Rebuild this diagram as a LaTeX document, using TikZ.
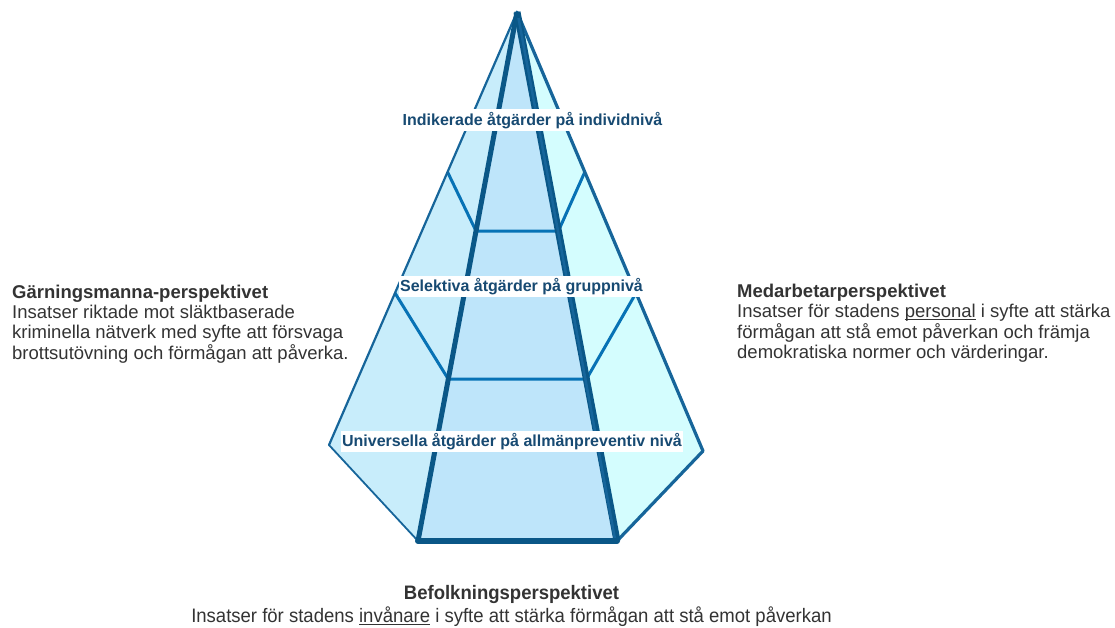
\documentclass[tikz,border=0pt]{standalone}
\usepackage{fontspec}
\usepackage{graphicx}
\setmainfont{Liberation Sans}
\usetikzlibrary{calc}
\definecolor{leftface}{HTML}{C8EDFB}
\definecolor{frontface}{HTML}{BEE5FA}
\definecolor{rightface}{HTML}{D4FDFE}
\definecolor{edgedark}{HTML}{0A5787}
\definecolor{edgeout}{HTML}{16659A}
\definecolor{midline}{HTML}{0772B5}
\definecolor{lbltext}{HTML}{174A72}
\definecolor{bodytext}{HTML}{333333}
\newcommand\myul[1]{\setbox0\hbox{#1}\rlap{\rule[-2.4pt]{\wd0}{1.1pt}}\box0\relax}
\begin{document}
\begin{tikzpicture}[x=1pt,y=-1pt,
  lbl/.style={fill=white,inner xsep=1.5pt,inner ysep=2.5pt,text=lbltext,
    font=\fontsize{16}{18}\selectfont\bfseries},
  body/.style={inner sep=0pt,text=bodytext,font=\fontsize{18.5}{20}\selectfont},
  outeredge/.style={draw=edgeout,line width=2.6pt,line cap=round},
  frontedge/.style={draw=edgedark,line width=5pt},
  divline/.style={draw=midline,line width=3pt,line join=round}]
\useasboundingbox (0,0) rectangle (1115,627);
% key points
\coordinate (A) at (517,12);
\coordinate (L) at (329,445);
\coordinate (R) at (703,451);
\coordinate (BL) at (418,541);
\coordinate (BR) at (617,541);
% faces
\fill[leftface] (A) -- (L) -- (BL) -- cycle;
\fill[rightface] (A) -- (R) -- (BR) -- cycle;
\fill[frontface] (A) -- (BL) -- (BR) -- cycle;
% division points
\coordinate (u1) at ($(A)!0.3695!(L)$);
\coordinate (u2) at ($(A)!0.414!(BL)$);
\coordinate (u3) at ($(A)!0.414!(BR)$);
\coordinate (u4) at ($(A)!0.3645!(R)$);
\coordinate (v1) at ($(A)!0.649!(L)$);
\coordinate (v2) at ($(A)!0.694!(BL)$);
\coordinate (v3) at ($(A)!0.694!(BR)$);
\coordinate (v4) at ($(A)!0.640!(R)$);
\draw[divline] (u1) -- (u2) -- (u3) -- (u4);
\draw[divline] (v1) -- (v2) -- (v3) -- (v4);
% edges
\draw[outeredge,line width=2.2pt] (A) -- (L);
\draw[outeredge,line width=1.8pt] (L) -- (BL);
\draw[outeredge,line width=3.2pt] (A) -- (R);
\draw[outeredge,line width=3.2pt] (R) -- (BR);
\draw[frontedge] (A) -- (BL);
\draw[frontedge,line width=7pt] (A) -- (BR);
\draw[frontedge,draw=edgeout,line width=2.5pt] ($(A)+(1.5,6)$) -- ($(BR)+(-2,-2)$);
\draw[frontedge,line width=6pt,line cap=round] (BL) -- (BR);
% pyramid labels
\node[lbl,anchor=base] (l1) at (532.5,125) {Indikerade åtgärder på individnivå};
\node[lbl,anchor=base] (l2) at (521.5,291.5) {Selektiva åtgärder på gruppnivå};
\node[lbl,anchor=base] (l3) at (512,446.5) {Universella åtgärder på allmänpreventiv nivå};
% side texts
\node[body,anchor=base west] (lefttxt) at (12,298.3) {\begin{tabular}[t]{@{}l@{}}
\textbf{Gärningsmanna-perspektivet}\\
Insatser riktade mot släktbaserade\\
kriminella nätverk med syfte att försvaga\\
brottsutövning och förmågan att påverka.
\end{tabular}};
\node[body,anchor=base west] (righttxt) at (737,297.5) {\begin{tabular}[t]{@{}l@{}}
\textbf{Medarbetarperspektivet}\\
Insatser för stadens \myul{personal} i syfte att stärka\\
förmågan att stå emot påverkan och främja\\
demokratiska normer och värderingar.
\end{tabular}};
\node[body,anchor=base,font=\fontsize{19.5}{23.5}\selectfont] (bottomtxt) at (511.5,599) {\scalebox{0.95}[1]{\begin{tabular}[t]{@{}c@{}}
\textbf{Befolkningsperspektivet}\\
Insatser för stadens \myul{invånare} i syfte att stärka förmågan att stå emot påverkan
\end{tabular}}};
\end{tikzpicture}
\end{document}
